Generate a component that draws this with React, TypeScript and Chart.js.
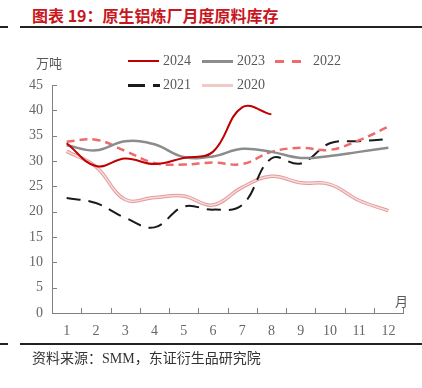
import React, { useEffect, useRef } from "react";
import { Chart, registerables } from "chart.js";
Chart.register(...registerables);

const months = ["1", "2", "3", "4", "5", "6", "7", "8", "9", "10", "11", "12"];
const s2024 = [33.5, 29.0, 30.5, 29.4, 30.6, 31.8, 40.6, 39.2];
const s2023 = [33.1, 32.1, 33.9, 33.3, 30.8, 30.9, 32.4, 31.8, 30.6, 31.0, 31.8, 32.6];
const s2022 = [33.8, 34.2, 32.0, 29.6, 29.3, 29.7, 29.4, 31.8, 32.6, 32.2, 34.1, 36.8];
const s2021 = [22.7, 21.7, 18.8, 16.9, 21.0, 20.4, 21.3, 30.5, 29.5, 33.5, 33.9, 34.3];
const s2020 = [31.9, 28.9, 22.4, 22.8, 23.1, 21.3, 24.8, 27.0, 25.7, 25.4, 22.2, 20.2];
const yTicks = [0, 5, 10, 15, 20, 25, 30, 35, 40, 45];

const serif = '"Liberation Serif", "Times New Roman", serif';
const cjk = '"Noto Sans CJK SC", sans-serif';

const innerTicks = {
  id: "innerTicks",
  afterDraw(chart: any) {
    const { ctx, chartArea, scales } = chart;
    ctx.save();
    ctx.strokeStyle = "#808080";
    ctx.lineWidth = 1;
    ctx.beginPath();
    for (const v of yTicks) {
      const y = Math.round(scales.y.getPixelForValue(v)) + 0.5;
      ctx.moveTo(chartArea.left, y);
      ctx.lineTo(chartArea.left + 5, y);
    }
    const n = months.length;
    for (let k = 1; k <= n; k++) {
      const x = Math.round(chartArea.left + (k * (chartArea.right - chartArea.left)) / n) + 0.5;
      ctx.moveTo(x, chartArea.bottom);
      ctx.lineTo(x, chartArea.bottom - 5);
    }
    ctx.stroke();
    ctx.restore();
  },
};

function LegendItem({ x, y, label, kind }: { x: number; y: number; label: string; kind: string }) {
  let sym: React.ReactNode = null;
  if (kind === "2024") sym = <div style={{ position: "absolute", left: x, top: y - 1, width: 31, height: 2, background: "#c00000" }} />;
  if (kind === "2023") sym = <div style={{ position: "absolute", left: x, top: y - 1.5, width: 31, height: 3, background: "#8c8c8c" }} />;
  if (kind === "2022")
    sym = (
      <>
        <div style={{ position: "absolute", left: x - 2, top: y - 1, width: 9, height: 2.5, background: "#ee6b6b" }} />
        <div style={{ position: "absolute", left: x + 15, top: y - 1, width: 9, height: 2.5, background: "#ee6b6b" }} />
      </>
    );
  if (kind === "2021")
    sym = (
      <>
        <div style={{ position: "absolute", left: x, top: y - 1, width: 17, height: 2.5, background: "#1a1a1a" }} />
        <div style={{ position: "absolute", left: x + 25, top: y - 1, width: 7, height: 2.5, background: "#1a1a1a" }} />
      </>
    );
  if (kind === "2020") sym = <div style={{ position: "absolute", left: x, top: y - 1.5, width: 31, height: 3, background: "#f2c9c9" }} />;
  const tx = kind === "2022" ? x + 36 : x + 35;
  return (
    <>
      {sym}
      <div style={{ position: "absolute", left: tx, top: y - 10, font: `14px ${serif}`, color: "#595959", lineHeight: "20px" }}>{label}</div>
    </>
  );
}

export default function App() {
  const ref = useRef<HTMLCanvasElement>(null);
  useEffect(() => {
    if (!ref.current) return;
    const chart = new Chart(ref.current, {
      type: "line",
      data: {
        labels: months,
        datasets: [
          { label: "2024", data: s2024, borderColor: "#c00000", borderWidth: 2, pointRadius: 0, tension: 0.4, fill: false },
          { label: "2023", data: s2023, borderColor: "#8c8c8c", borderWidth: 2.5, pointRadius: 0, tension: 0.4, fill: false },
          { label: "2022", data: s2022, borderColor: "#ee6b6b", borderWidth: 2.5, borderDash: [8, 5], pointRadius: 0, tension: 0.4, fill: false },
          { label: "2021", data: s2021, borderColor: "#1a1a1a", borderWidth: 2, borderDash: [14, 8], pointRadius: 0, tension: 0.4, fill: false },
          { label: "2020", data: s2020, borderColor: "#f7dcdc", borderWidth: 1.5, pointRadius: 0, tension: 0.4, fill: false },
          { label: "2020b", data: s2020, borderColor: "#e49a9a", borderWidth: 3.5, pointRadius: 0, tension: 0.4, fill: false },
        ],
      },
      options: {
        animation: false,
        responsive: false,
        maintainAspectRatio: false,
        layout: { padding: { left: 0, right: 19, top: 85, bottom: 35 } },
        plugins: { legend: { display: false }, tooltip: { enabled: false }, title: { display: false } },
        scales: {
          x: {
            type: "category",
            offset: true,
            grid: { display: false, drawTicks: false },
            border: { display: true, color: "#808080", width: 1 },
            ticks: { color: "#666", font: { family: serif, size: 14 }, padding: 10, maxRotation: 0, autoSkip: false },
            afterFit: (s: any) => { s.height = 40; },
          },
          y: {
            min: 0,
            max: 45,
            grid: { display: false, drawTicks: false },
            border: { display: true, color: "#808080", width: 1 },
            ticks: { stepSize: 5, color: "#666", font: { family: serif, size: 14 }, padding: 9 },
            afterFit: (s: any) => { s.width = 52; },
          },
        },
      },
      plugins: [innerTicks],
    });
    return () => chart.destroy();
  }, []);

  return (
    <div style={{ position: "absolute", left: 0, top: 0, width: 422, height: 388, background: "#fff", overflow: "hidden" }}>
      <div style={{ position: "absolute", left: 32, top: 4, font: `bold 16px ${cjk}`, color: "#c8161d", lineHeight: "22px", whiteSpace: "nowrap" }}>
        图表 19：原生铝炼厂月度原料库存
      </div>
      <div style={{ position: "absolute", left: 0, top: 26, width: 8, height: 1.5, background: "#222" }} />
      <div style={{ position: "absolute", left: 20, top: 26, width: 402, height: 1.5, background: "#222" }} />
      <canvas ref={ref} width={422} height={388} style={{ position: "absolute", left: 0, top: 0, width: 422, height: 388 }} />
      <div style={{ position: "absolute", left: 36, top: 54, font: `13px ${cjk}`, color: "#595959", lineHeight: "18px" }}>万吨</div>
      <div style={{ position: "absolute", left: 395, top: 292, font: `13px ${cjk}`, color: "#595959", lineHeight: "18px" }}>月</div>
      <LegendItem x={128} y={61} label="2024" kind="2024" />
      <LegendItem x={202} y={61} label="2023" kind="2023" />
      <LegendItem x={277} y={61} label="2022" kind="2022" />
      <LegendItem x={128} y={85} label="2021" kind="2021" />
      <LegendItem x={202} y={85} label="2020" kind="2020" />
      <div style={{ position: "absolute", left: 0, top: 343, width: 8, height: 1.5, background: "#222" }} />
      <div style={{ position: "absolute", left: 20, top: 343, width: 402, height: 1.5, background: "#222" }} />
      <div style={{ position: "absolute", left: 32, top: 347, font: `14px ${cjk}`, color: "#333", lineHeight: "20px", whiteSpace: "nowrap" }}>
        资料来源：<span style={{ fontFamily: serif }}>SMM</span>，东证衍生品研究院
      </div>
    </div>
  );
}
